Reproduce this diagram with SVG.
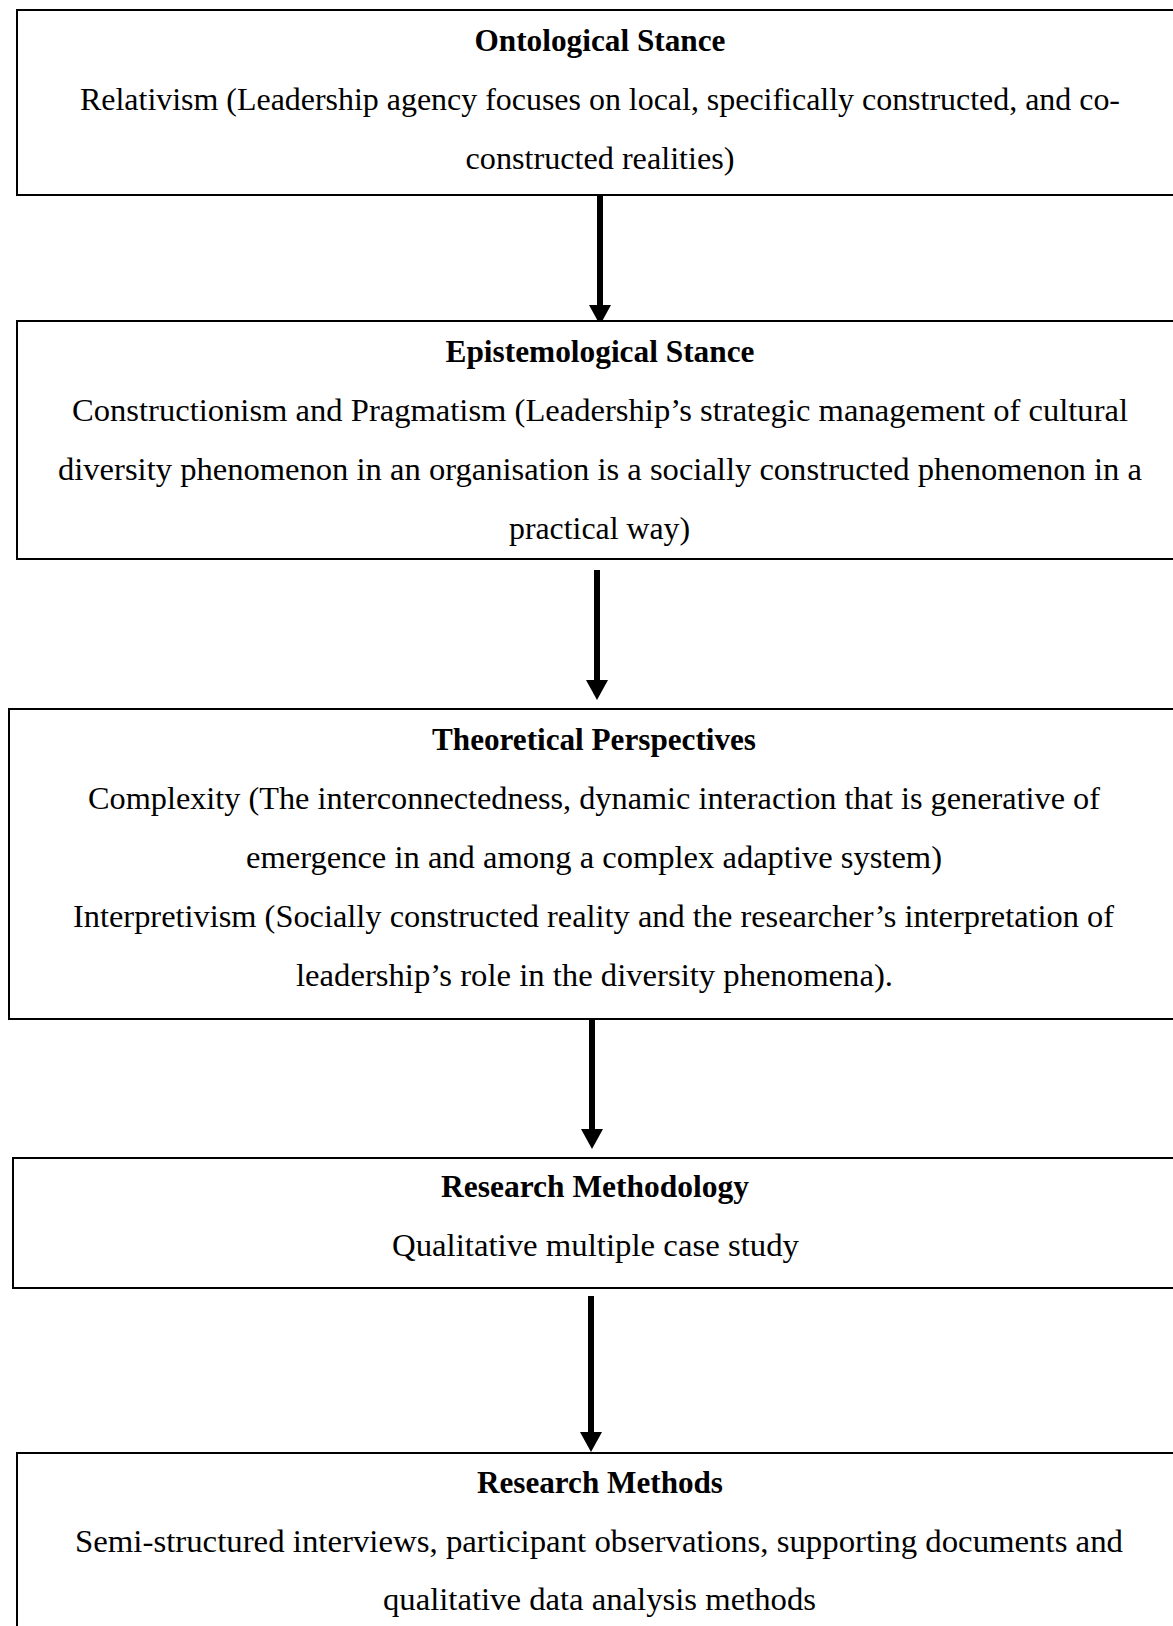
<svg xmlns="http://www.w3.org/2000/svg" width="1173" height="1626" viewBox="0 0 1173 1626">
  <style>
    .box { fill: #ffffff; stroke: #000000; stroke-width: 2; }
    .title { font-family: "Liberation Serif", "Times New Roman", serif; font-weight: bold; font-size: 31px; fill: #000000; text-anchor: middle; }
    .body { font-family: "Liberation Serif", "Times New Roman", serif; font-size: 31px; fill: #000000; text-anchor: middle; }
    .shaft { stroke: #000000; stroke-width: 6; fill: none; }
  </style>
  <defs>
    <marker id="head" viewBox="0 -11 20 22" refX="0" refY="0" markerWidth="20" markerHeight="22" markerUnits="userSpaceOnUse" orient="auto">
      <path d="M0,-11 L20,0 L0,11 Z" fill="#000000"/>
    </marker>
  </defs>
  <rect width="1173" height="1626" fill="#ffffff"/>

  <!-- flow arrows between the stages -->
  <g id="connectors">
    <line class="shaft" x1="600" y1="195" x2="600" y2="305" marker-end="url(#head)"/>
    <line class="shaft" x1="597" y1="570" x2="597" y2="680" marker-end="url(#head)"/>
    <line class="shaft" x1="592" y1="1019" x2="592" y2="1129" marker-end="url(#head)"/>
    <line class="shaft" x1="591" y1="1296" x2="591" y2="1432" marker-end="url(#head)"/>
  </g>

  <g id="ontological-stance">
    <rect class="box" x="17" y="10" width="1170" height="185"/>
    <text class="title" x="600" y="51" textLength="251" lengthAdjust="spacingAndGlyphs">Ontological Stance</text>
    <text class="body" x="600" y="110" textLength="1040" lengthAdjust="spacingAndGlyphs">Relativism (Leadership agency focuses on local, specifically constructed, and co-</text>
    <text class="body" x="600" y="169" textLength="269" lengthAdjust="spacingAndGlyphs">constructed realities)</text>
  </g>

  <g id="epistemological-stance">
    <rect class="box" x="17" y="321" width="1170" height="238"/>
    <text class="title" x="600" y="362" textLength="309" lengthAdjust="spacingAndGlyphs">Epistemological Stance</text>
    <text class="body" x="600" y="421" textLength="1056" lengthAdjust="spacingAndGlyphs">Constructionism and Pragmatism (Leadership’s strategic management of cultural</text>
    <text class="body" x="600" y="480" textLength="1084" lengthAdjust="spacingAndGlyphs">diversity phenomenon in an organisation is a socially constructed phenomenon in a</text>
    <text class="body" x="599.5" y="539" textLength="181" lengthAdjust="spacingAndGlyphs">practical way)</text>
  </g>

  <g id="theoretical-perspectives">
    <rect class="box" x="9" y="709" width="1180" height="310"/>
    <text class="title" x="594" y="750" textLength="324" lengthAdjust="spacingAndGlyphs">Theoretical Perspectives</text>
    <text class="body" x="594" y="809" textLength="1012" lengthAdjust="spacingAndGlyphs">Complexity (The interconnectedness, dynamic interaction that is generative of</text>
    <text class="body" x="594" y="868" textLength="696" lengthAdjust="spacingAndGlyphs">emergence in and among a complex adaptive system)</text>
    <text class="body" x="593.5" y="927" textLength="1041" lengthAdjust="spacingAndGlyphs">Interpretivism (Socially constructed reality and the researcher’s interpretation of</text>
    <text class="body" x="594.5" y="986" textLength="597" lengthAdjust="spacingAndGlyphs">leadership’s role in the diversity phenomena).</text>
  </g>

  <g id="research-methodology">
    <rect class="box" x="13" y="1158" width="1175" height="130"/>
    <text class="title" x="595" y="1197" textLength="308" lengthAdjust="spacingAndGlyphs">Research Methodology</text>
    <text class="body" x="595.5" y="1256" textLength="407" lengthAdjust="spacingAndGlyphs">Qualitative multiple case study</text>
  </g>

  <g id="research-methods">
    <rect class="box" x="17" y="1453" width="1170" height="200"/>
    <text class="title" x="600" y="1493" textLength="246" lengthAdjust="spacingAndGlyphs">Research Methods</text>
    <text class="body" x="599" y="1552" textLength="1048" lengthAdjust="spacingAndGlyphs">Semi-structured interviews, participant observations, supporting documents and</text>
    <text class="body" x="599.5" y="1610" textLength="433" lengthAdjust="spacingAndGlyphs">qualitative data analysis methods</text>
  </g>
</svg>
